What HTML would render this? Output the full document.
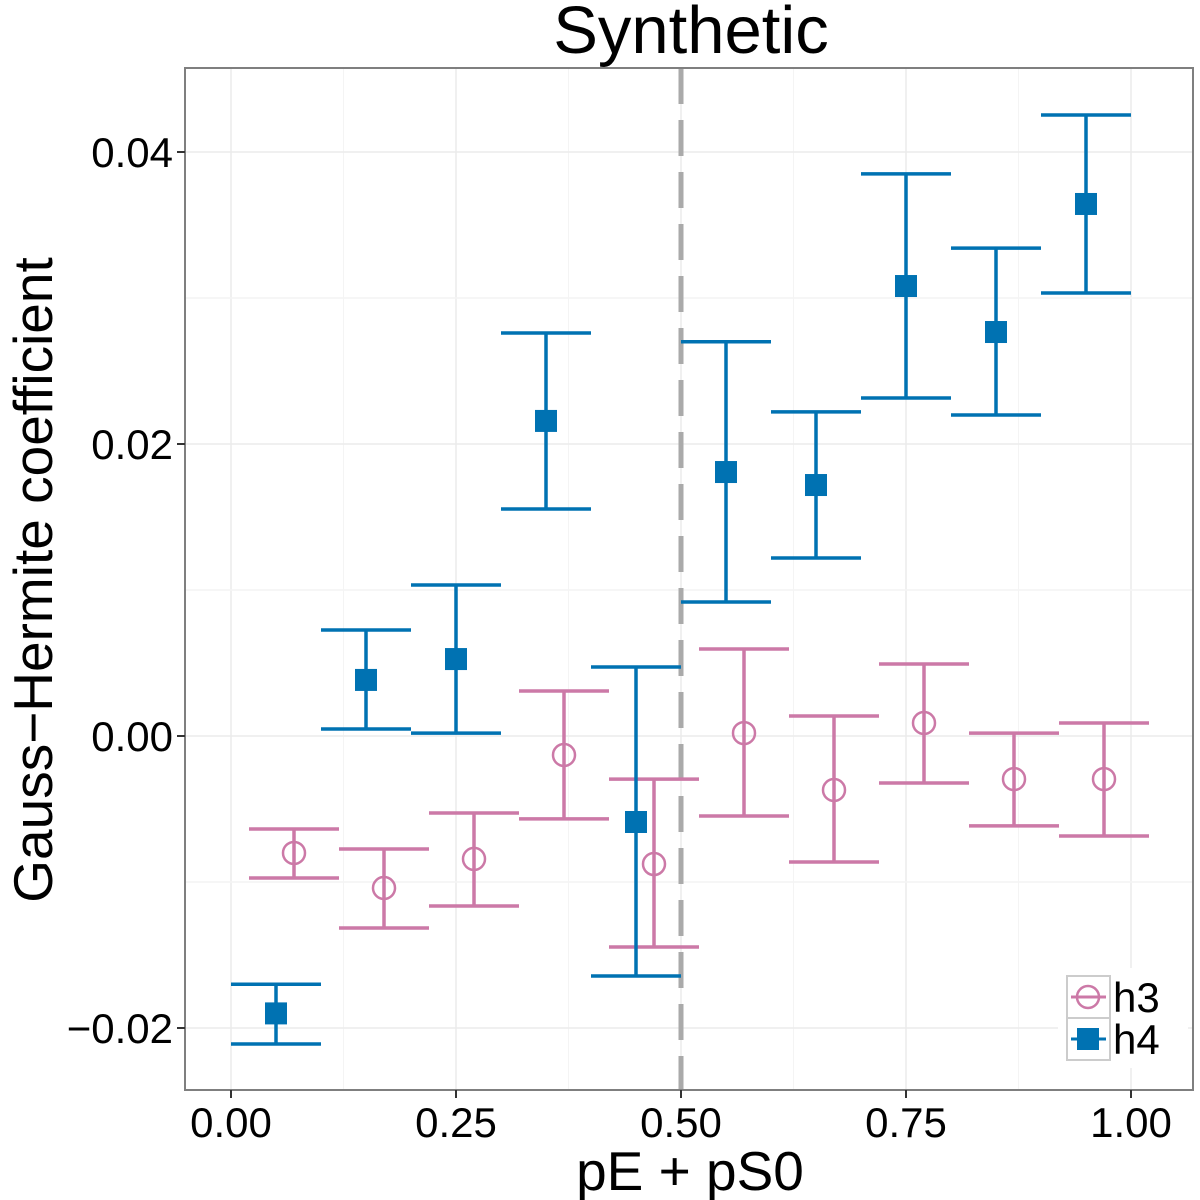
<!DOCTYPE html>
<html><head><meta charset="utf-8"><style>body{margin:0;background:#fff}svg{display:block;font-family:"Liberation Sans",sans-serif}</style></head>
<body>
<svg id="chart" width="1200" height="1200" viewBox="0 0 1200 1200">
<rect width="1200" height="1200" fill="#fff"/>
<g id="grid"></g><g id="marks"></g><g id="axes"></g>
</svg>
<script>
const xTicks=[0,0.25,0.5,0.75,1];
const xTickLabels=["0.00","0.25","0.50","0.75","1.00"];
const yTicks=[-0.02,0,0.02,0.04];
const yTickLabels=["\u22120.02","0.00","0.02","0.04"];
const h4X=[0.05,0.15,0.25,0.35,0.45,0.55,0.65,0.75,0.85,0.95];
const h4Y=[-0.019,0.00384,0.00527,0.02158,-0.00589,0.01808,0.01719,0.03082,0.02767,0.03644];
const h4Lo=[-0.0211,0.00048,0.0002,0.01555,-0.01644,0.00918,0.01219,0.02315,0.02199,0.03034];
const h4Hi=[-0.017,0.00726,0.01034,0.0276,0.00473,0.027,0.0222,0.0385,0.03342,0.04253];
const h3X=[0.07,0.17,0.27,0.37,0.47,0.57,0.67,0.77,0.87,0.97];
const h3Y=[-0.00801,-0.01041,-0.00842,-0.0013,-0.00877,0.0002,-0.0037,0.00089,-0.00295,-0.00295];
const h3Lo=[-0.00973,-0.01315,-0.01164,-0.00568,-0.01445,-0.00548,-0.00863,-0.00322,-0.00616,-0.00685];
const h3Hi=[-0.00637,-0.00774,-0.00527,0.00308,-0.00295,0.00596,0.00137,0.00493,0.0002,0.00089];
const X=v=>231+900*v, Y=v=>736-14600*v;
const NS="http://www.w3.org/2000/svg";
function mk(p,t,a){const e=document.createElementNS(NS,t);for(const k in a)e.setAttribute(k,a[k]);p.appendChild(e);return e;}
const grid=document.getElementById('grid'),marks=document.getElementById('marks'),axes=document.getElementById('axes');
const L=185,R=1193,T=68,B=1090;
mk(grid,'rect',{x:L,y:T,width:R-L,height:B-T,fill:'#fff'});
for(let i=0;i<xTicks.length;i++){
 [xTicks[i],xTicks[i]+0.125].forEach((v,j)=>{if(X(v)<R){const l=mk(grid,'line',{x1:X(v),x2:X(v),y1:T,y2:B,stroke:j?'#f4f4f4':'#ebebeb','stroke-width':j?1:1.5});}});
}
[-0.01,0,0.01,0.02,0.03,0.04].concat([-0.02]).forEach(v=>{const l=mk(grid,'line',{x1:L,x2:R,y1:Y(v),y2:Y(v),stroke:(Math.round(v*100)%2)?'#f4f4f4':'#ebebeb','stroke-width':1.5});});
const dv=mk(marks,'line',{x1:X(0.5),x2:X(0.5),y1:T,y2:B,stroke:'#aaaaaa','stroke-width':5,'stroke-dasharray':'36 16'});

function errbar(x,lo,hi,c,name){const g=mk(marks,'g',{stroke:c,'stroke-width':3.5,fill:'none'});
 
 mk(g,'line',{x1:X(x),x2:X(x),y1:Y(lo),y2:Y(hi)});
 mk(g,'line',{x1:X(x)-45,x2:X(x)+45,y1:Y(lo),y2:Y(lo)});
 mk(g,'line',{x1:X(x)-45,x2:X(x)+45,y1:Y(hi),y2:Y(hi)});}
for(let i=0;i<h3X.length;i++){errbar(h3X[i],h3Lo[i],h3Hi[i],'#CC79A7','h3-errorbar');
 const c=mk(marks,'circle',{cx:X(h3X[i]),cy:Y(h3Y[i]),r:11,fill:'none',stroke:'#CC79A7','stroke-width':2.5});
 }
for(let i=0;i<h4X.length;i++){errbar(h4X[i],h4Lo[i],h4Hi[i],'#0072B2','h4-errorbar');
 const s=mk(marks,'rect',{x:X(h4X[i])-11,y:Y(h4Y[i])-11,width:22,height:22,fill:'#0072B2'});
 }
const lg=mk(axes,'g',{});
mk(lg,'rect',{x:1058,y:968,width:130,height:100,fill:'#fff'});
mk(lg,'rect',{x:1067,y:976,width:43,height:42,fill:'#fff',stroke:'#cccccc','stroke-width':2});
mk(lg,'rect',{x:1067,y:1018,width:43,height:42,fill:'#fff',stroke:'#cccccc','stroke-width':2});
mk(lg,'line',{x1:1071,x2:1106,y1:997,y2:997,stroke:'#CC79A7','stroke-width':3});
mk(lg,'circle',{cx:1088,cy:997,r:11,fill:'none',stroke:'#CC79A7','stroke-width':2.5});
mk(lg,'line',{x1:1071,x2:1106,y1:1039,y2:1039,stroke:'#0072B2','stroke-width':3});
mk(lg,'rect',{x:1077,y:1028,width:22,height:22,fill:'#0072B2'});
const t3=mk(lg,'text',{x:1113,y:1012,'font-size':42});t3.textContent='h3';
const t4=mk(lg,'text',{x:1113,y:1054,'font-size':42});t4.textContent='h4';
mk(axes,'rect',{x:L,y:T,width:R-L,height:B-T,fill:'none',stroke:'#7f7f7f','stroke-width':2});
for(let i=0;i<xTicks.length;i++){mk(axes,'line',{x1:X(xTicks[i]),x2:X(xTicks[i]),y1:B,y2:B+8,stroke:'#333','stroke-width':2});
 const t=mk(axes,'text',{x:X(xTicks[i]),y:1137,'font-size':42,'text-anchor':'middle'});t.textContent=xTickLabels[i];
 }
for(let i=0;i<yTicks.length;i++){mk(axes,'line',{x1:L-8,x2:L,y1:Y(yTicks[i]),y2:Y(yTicks[i]),stroke:'#333','stroke-width':2});
 const t=mk(axes,'text',{x:173,y:Y(yTicks[i])+15,'font-size':42,'text-anchor':'end'});t.textContent=yTickLabels[i];
 }
const xt=mk(axes,'text',{x:690,y:1190,'font-size':55,'text-anchor':'middle'});xt.textContent='pE + pS0';
const yt=mk(axes,'text',{x:0,y:0,'font-size':55,'text-anchor':'middle',transform:'translate(52,580) rotate(-90)'});yt.textContent='Gauss\u2212Hermite coefficient';
const tt=mk(axes,'text',{x:691,y:53,'font-size':67,'text-anchor':'middle'});tt.textContent='Synthetic';
</script>
</body></html>
